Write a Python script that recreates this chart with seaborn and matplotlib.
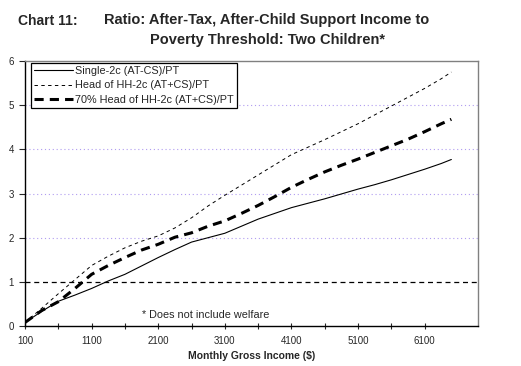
import numpy as np
import pandas as pd
import matplotlib
matplotlib.use("Agg")
import matplotlib.pyplot as plt
import seaborn as sns

# --- DATA ---
income = [100, 350, 600, 850, 1100, 1350, 1600, 1850, 2100, 2350, 2600, 2850, 3100,
          3350, 3600, 3850, 4100, 4350, 4600, 4850, 5100, 5350, 5600, 5850, 6100, 6350, 6500]
single_2c = [0.08, 0.33, 0.56, 0.70, 0.85, 1.02, 1.17, 1.36, 1.55, 1.73, 1.90, 2.00, 2.10,
             2.26, 2.42, 2.55, 2.68, 2.78, 2.88, 2.99, 3.10, 3.20, 3.31, 3.43, 3.55, 3.68, 3.77]
head_hh_2c = [0.08, 0.40, 0.73, 1.05, 1.37, 1.58, 1.77, 1.92, 2.04, 2.22, 2.45, 2.72, 2.96,
              3.19, 3.42, 3.65, 3.88, 4.05, 4.22, 4.40, 4.58, 4.78, 4.98, 5.18, 5.38, 5.60, 5.75]
head_hh_70 = [0.08, 0.35, 0.55, 0.85, 1.17, 1.37, 1.55, 1.72, 1.85, 2.01, 2.11, 2.26, 2.38,
              2.55, 2.73, 2.93, 3.14, 3.32, 3.49, 3.64, 3.78, 3.93, 4.08, 4.23, 4.40, 4.58, 4.68]
series_names = ["Single-2c (AT-CS)/PT", "Head of HH-2c (AT+CS)/PT", "70% Head of HH-2c (AT+CS)/PT"]
x_ticks = [100, 1100, 2100, 3100, 4100, 5100, 6100]
y_ticks = [0, 1, 2, 3, 4, 5, 6]

df = pd.DataFrame({"income": income, series_names[0]: single_2c,
                   series_names[1]: head_hh_2c, series_names[2]: head_hh_70})

# --- PLOT ---
sns.set_style("white")
plt.rcParams["font.family"] = ["Liberation Sans", "DejaVu Sans"]

fig = plt.figure(figsize=(5.21, 3.66), dpi=100)
ax = fig.add_axes([25 / 521, 1 - 326 / 366, 453 / 521, 265 / 366])

for yv in y_ticks[2:-1]:
    ax.axhline(yv, color="#b09cf0", lw=0.8, ls=(0, (1, 2.5)), zorder=0)
ax.axhline(1, color="black", lw=0.9, ls=(0, (4, 3)), zorder=1)

sns.lineplot(data=df, x="income", y=series_names[0], ax=ax, color="black", lw=0.8,
             label=series_names[0])
sns.lineplot(data=df, x="income", y=series_names[1], ax=ax, color="black", lw=0.7,
             label=series_names[1])
sns.lineplot(data=df, x="income", y=series_names[2], ax=ax, color="black", lw=2.2,
             label=series_names[2])
lines = ax.get_lines()
lines[-2].set_dashes((3.5, 3.5))
lines[-1].set_dashes((3, 2))

ax.set_xlim(100, 6900)
ax.set_ylim(0, 6)
ax.set_xticks(x_ticks)
ax.set_xticks(np.array(x_ticks[:-1]) + 500, minor=True)
ax.set_yticks(y_ticks)
ax.tick_params(axis="x", which="both", direction="inout", length=5, width=0.8,
               labelsize=7, pad=5)
ax.tick_params(axis="y", direction="out", length=4, width=0.8, labelsize=7, pad=4, left=True)
ax.tick_params(axis="x", bottom=True, which="both")

for side in ["top", "right"]:
    ax.spines[side].set_color("#808080")
    ax.spines[side].set_linewidth(1.0)
for side in ["left", "bottom"]:
    ax.spines[side].set_color("black")
    ax.spines[side].set_linewidth(1.0)

ax.set_xlabel("Monthly Gross Income ($)", fontsize=7.5, fontweight="bold", labelpad=3)
ax.set_ylabel("")

leg = ax.legend(loc="upper left", bbox_to_anchor=(0.013, 0.993), fontsize=7.8,
                frameon=True, fancybox=False, edgecolor="black", framealpha=1,
                borderpad=0.3, labelspacing=0.4, handlelength=3.6, handletextpad=0.15,
                borderaxespad=0)
leg.get_frame().set_linewidth(0.9)

ax.text(0.258, 0.04, "* Does not include welfare", transform=ax.transAxes, fontsize=7.8,
        va="center", ha="left")

fig.text(18 / 521, 1 - 21 / 366, "Chart 11:", fontsize=10, fontweight="bold", va="center")
fig.text(267 / 521, 1 - 20 / 366, "Ratio: After-Tax, After-Child Support Income to",
         fontsize=10.5, fontweight="bold", va="center", ha="center")
fig.text(268 / 521, 1 - 40 / 366, "Poverty Threshold: Two Children*",
         fontsize=10.5, fontweight="bold", va="center", ha="center")

plt.savefig("out.png", dpi=100)
